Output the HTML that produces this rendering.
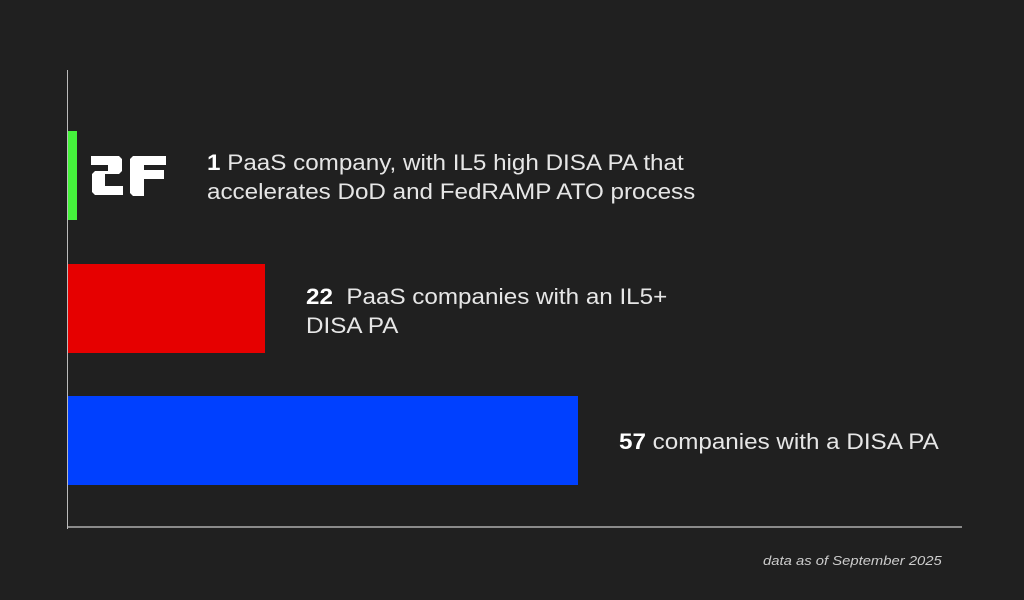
<!DOCTYPE html>
<html><head><style>
body{margin:0;width:1024px;height:600px;background:#202020;overflow:hidden;position:relative;font-family:"Liberation Sans",sans-serif;color:#e6e6e6}
.t{position:absolute;font-size:22px;line-height:29px;white-space:nowrap;transform:scaleX(1.1);transform-origin:0 0}
b{color:#fff}
</style></head><body>
<div style="position:absolute;left:67px;top:70px;width:1px;height:459px;background:#bbb"></div>
<div style="position:absolute;left:68px;top:526px;width:894px;height:2px;background:#8a8a8a"></div>
<div style="position:absolute;left:68px;top:131px;width:9px;height:89px;background:#45f23c"></div>
<div style="position:absolute;left:68px;top:264px;width:197px;height:89px;background:#e60000"></div>
<div style="position:absolute;left:68px;top:396px;width:510px;height:89px;background:#0040ff"></div>
<svg style="position:absolute;left:88px;top:153px" width="82" height="46" viewBox="0 0 82 46">
<g fill="#fff">
<path d="M3 3h28l3 3v12l-3 3H17v3H4v-3l3-3h13v-6H3z"/>
<path d="M4 24h13v9h18v9H7l-3-3z"/>
<path d="M45 3h33v9H56v5h20v9H56v17H45l-3-3V6z"/>
</g>
</svg>
<div class="t" style="left:207px;top:148px"><b>1</b> PaaS company, with IL5 high DISA PA that<br>accelerates DoD and FedRAMP ATO process</div>
<div class="t" style="left:306px;top:282px"><b>22</b>&nbsp; PaaS companies with an IL5+<br>DISA PA</div>
<div class="t" style="left:619px;top:427px"><b>57</b> companies with a DISA PA</div>
<div style="position:absolute;left:763px;top:553px;font-size:13px;font-style:italic;color:#ccc;transform:scaleX(1.14);transform-origin:0 0">data as of September 2025</div>
</body></html>
